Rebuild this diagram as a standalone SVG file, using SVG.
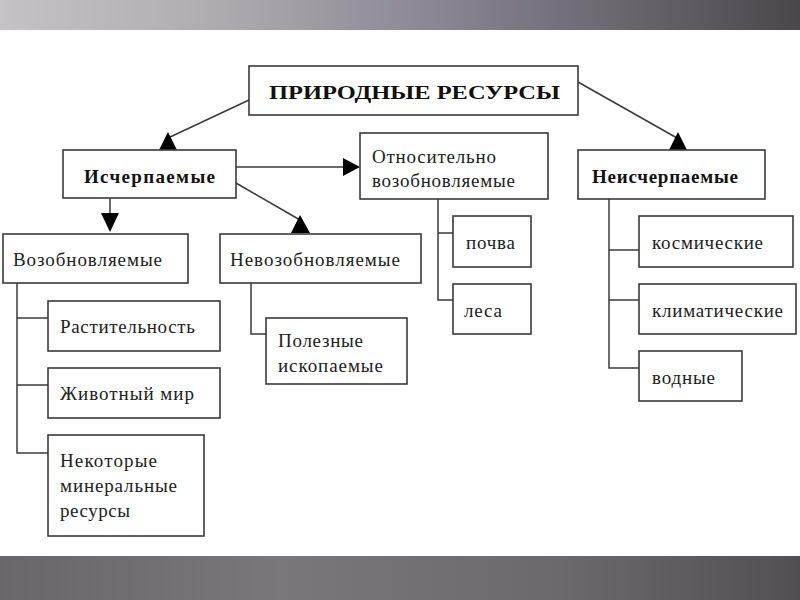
<svg xmlns="http://www.w3.org/2000/svg" width="800" height="600" viewBox="0 0 800 600">
<defs>
<linearGradient id="topg" x1="0" y1="0" x2="1" y2="0">
<stop offset="0" stop-color="#c4c2c6"/>
<stop offset="0.25" stop-color="#b0aeb3"/>
<stop offset="0.55" stop-color="#8a8590"/>
<stop offset="1" stop-color="#4a484d"/>
</linearGradient>
<linearGradient id="botg" x1="0" y1="0" x2="1" y2="0">
<stop offset="0" stop-color="#6a676c"/>
<stop offset="0.35" stop-color="#7a777c"/>
<stop offset="0.7" stop-color="#6c696e"/>
<stop offset="1" stop-color="#525055"/>
</linearGradient>
<style>
.box{fill:#fff;stroke:#3a3a3a;stroke-width:1.6}
.ln{fill:none;stroke:#3a3a3a;stroke-width:1.5}
.ah{fill:#000}
text{font-family:"Liberation Serif","Times New Roman",serif;fill:#222;font-size:19px}
.b{font-weight:bold;fill:#111}
</style>
</defs>
<rect x="0" y="0" width="800" height="600" fill="#fff"/>
<rect x="0" y="0" width="800" height="30" fill="url(#topg)"/>
<rect x="0" y="556" width="800" height="44" fill="url(#botg)"/>

<g id="connectors">
<line class="ln" x1="249" y1="100" x2="168" y2="138"/>
<polygon class="ah" points="168,132 159,150 177,150"/>
<line class="ln" x1="578" y1="82" x2="677" y2="138"/>
<polygon class="ah" points="678,132 669,150 687,150"/>
<line class="ln" x1="236" y1="167" x2="345" y2="167"/>
<polygon class="ah" points="343,158 343,176 360,167"/>
<line class="ln" x1="110" y1="198" x2="110" y2="214"/>
<polygon class="ah" points="101,213 119,213 110,232"/>
<line class="ln" x1="236" y1="183" x2="300" y2="220"/>
<polygon class="ah" points="300,215 291,233 310,233"/>
<polyline class="ln" points="17,283 17,453 48,453"/>
<line class="ln" x1="17" y1="318" x2="48" y2="318"/>
<line class="ln" x1="17" y1="385" x2="48" y2="385"/>
<polyline class="ln" points="251,283 251,334 266,334"/>
<polyline class="ln" points="438,199 438,300 453,300"/>
<line class="ln" x1="438" y1="233" x2="453" y2="233"/>
<polyline class="ln" points="609,199 609,368 639,368"/>
<line class="ln" x1="609" y1="250" x2="639" y2="250"/>
<line class="ln" x1="609" y1="300" x2="639" y2="300"/>
</g>

<g id="n-root">
<rect class="box" x="249" y="66" width="329" height="49"/>
<text class="b" x="269" y="99" font-size="25" textLength="291" lengthAdjust="spacingAndGlyphs">ПРИРОДНЫЕ РЕСУРСЫ</text>
</g>
<g id="n-ischerp">
<rect class="box" x="63" y="150" width="173" height="48"/>
<text class="b" x="84" y="183" font-size="19" textLength="131" lengthAdjust="spacing">Исчерпаемые</text>
</g>
<g id="n-otnos">
<rect class="box" x="360" y="133" width="188" height="66"/>
<text x="372" y="163" textLength="124" lengthAdjust="spacing">Относительно</text>
<text x="372" y="187" textLength="143" lengthAdjust="spacing">возобновляемые</text>
</g>
<g id="n-neischerp">
<rect class="box" x="578" y="150" width="187" height="49"/>
<text class="b" x="592" y="183" font-size="19" textLength="146" lengthAdjust="spacing">Неисчерпаемые</text>
</g>
<g id="n-vozob">
<rect class="box" x="3" y="234" width="185" height="49"/>
<text x="13" y="266" textLength="149" lengthAdjust="spacing">Возобновляемые</text>
</g>
<g id="n-nevozob">
<rect class="box" x="220" y="234" width="201" height="49"/>
<text x="230" y="266" textLength="170" lengthAdjust="spacing">Невозобновляемые</text>
</g>
<g id="n-pochva">
<rect class="box" x="453" y="216" width="78" height="51"/>
<text x="466" y="249" textLength="49" lengthAdjust="spacing">почва</text>
</g>
<g id="n-lesa">
<rect class="box" x="453" y="284" width="78" height="50"/>
<text x="464" y="317" textLength="38" lengthAdjust="spacing">леса</text>
</g>
<g id="n-kosm">
<rect class="box" x="639" y="216" width="154" height="51"/>
<text x="652" y="249" textLength="111" lengthAdjust="spacing">космические</text>
</g>
<g id="n-klim">
<rect class="box" x="639" y="284" width="157" height="50"/>
<text x="652" y="317" textLength="131" lengthAdjust="spacing">климатические</text>
</g>
<g id="n-vodnye">
<rect class="box" x="639" y="351" width="103" height="50"/>
<text x="652" y="384" textLength="63" lengthAdjust="spacing">водные</text>
</g>
<g id="n-rast">
<rect class="box" x="48" y="301" width="172" height="50"/>
<text x="60" y="333" textLength="135" lengthAdjust="spacing">Растительность</text>
</g>
<g id="n-zhiv">
<rect class="box" x="48" y="368" width="172" height="50"/>
<text x="60" y="400" textLength="134" lengthAdjust="spacing">Животный мир</text>
</g>
<g id="n-polez">
<rect class="box" x="266" y="318" width="141" height="66"/>
<text x="278" y="347" textLength="85" lengthAdjust="spacing">Полезные</text>
<text x="278" y="372" textLength="105" lengthAdjust="spacing">ископаемые</text>
</g>
<g id="n-nekot">
<rect class="box" x="48" y="435" width="156" height="101"/>
<text x="60" y="467" textLength="97" lengthAdjust="spacing">Некоторые</text>
<text x="60" y="492" textLength="117" lengthAdjust="spacing">минеральные</text>
<text x="60" y="517" textLength="70" lengthAdjust="spacing">ресурсы</text>
</g>
</svg>
